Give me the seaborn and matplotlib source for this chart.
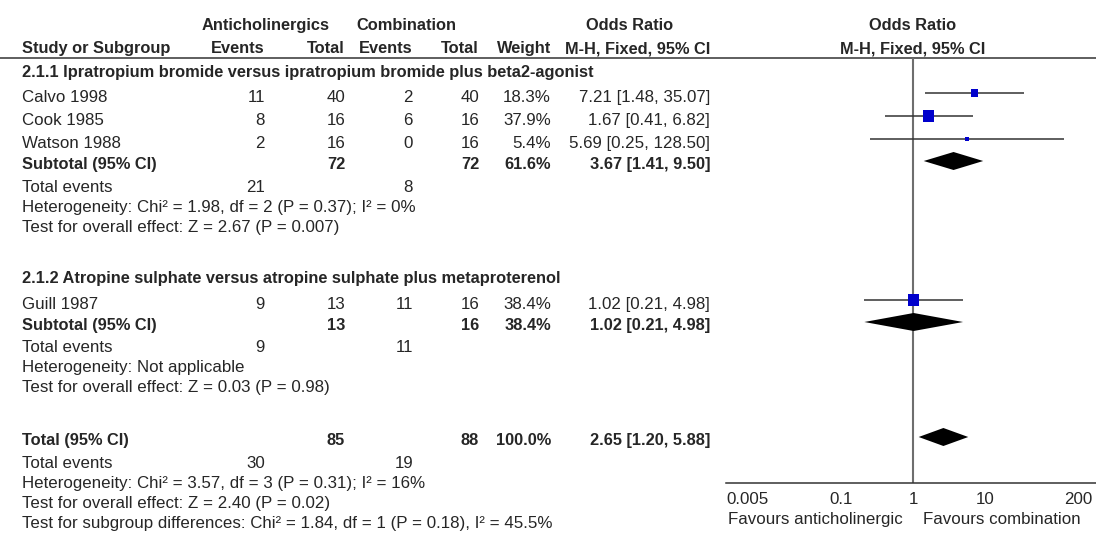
import pandas as pd
import seaborn as sns
import matplotlib.pyplot as plt

# Study level data
studies = ['Calvo 1998', 'Cook 1985', 'Watson 1988', 'Guill 1987']
ac_events = [11, 8, 2, 9]
ac_total = [40, 16, 16, 13]
co_events = [2, 6, 0, 11]
co_total = [40, 16, 16, 16]
weight = [18.3, 37.9, 5.4, 38.4]
odds = [7.21, 1.67, 5.69, 1.02]
ci_low = [1.48, 0.41, 0.25, 0.21]
ci_high = [35.07, 6.82, 128.50, 4.98]

# Subtotals and overall total
pooled_labels = ['Subtotal (95% CI)', 'Subtotal (95% CI)', 'Total (95% CI)']
pooled_ac_total = [72, 13, 85]
pooled_co_total = [72, 16, 88]
pooled_weight = [61.6, 38.4, 100.0]
pooled_or = [3.67, 1.02, 2.65]
pooled_low = [1.41, 0.21, 1.20]
pooled_high = [9.50, 4.98, 5.88]
sum_ac_events = [21, 9, 30]
sum_co_events = [8, 11, 19]

subgroups = ['2.1.1 Ipratropium bromide versus ipratropium bromide plus beta2-agonist',
             '2.1.2 Atropine sulphate versus atropine sulphate plus metaproterenol']
heterogeneity = ['Heterogeneity: Chi\u00b2 = 1.98, df = 2 (P = 0.37); I\u00b2 = 0%',
                 'Heterogeneity: Not applicable',
                 'Heterogeneity: Chi\u00b2 = 3.57, df = 3 (P = 0.31); I\u00b2 = 16%']
overall = ['Test for overall effect: Z = 2.67 (P = 0.007)',
           'Test for overall effect: Z = 0.03 (P = 0.98)',
           'Test for overall effect: Z = 2.40 (P = 0.02)']
subgroup_test = 'Test for subgroup differences: Chi\u00b2 = 1.84, df = 1 (P = 0.18), I\u00b2 = 45.5%'
ticks = [0.005, 0.1, 1, 10, 200]
tick_labels = ['0.005', '0.1', '1', '10', '200']

# Layout (pixel rows / columns)
study_y = [93, 116, 139, 300]
pooled_y = [161, 322, 437]
subgroup_y = [71, 277]
sum_y = [186, 346, 462]
col_ae, col_at, col_ce, col_ct, col_w, col_or = 265, 345, 413, 479, 551, 710
x_left = 22
dark = '#262626'
fs, fsb = 12.2, 11.8

sns.set_style('white')
plt.rcParams['font.family'] = ['Liberation Sans', 'DejaVu Sans']

fig = plt.figure(figsize=(10.96, 5.42), dpi=100)
bg = fig.add_axes([0, 0, 1, 1])
bg.set_xlim(0, 1096)
bg.set_ylim(542, 0)
bg.axis('off')


def txt(x, y, s, ha='left', bold=False):
    # y is the visual centre of capital letters
    bg.text(x, y + 6, s, ha=ha, va='baseline', color=dark,
            fontsize=fsb if bold else fs, fontweight='bold' if bold else 'normal')


# Header
txt(266, 24, 'Anticholinergics', 'center', True)
txt(406, 24, 'Combination', 'center', True)
txt(630, 24, 'Odds Ratio', 'center', True)
txt(913, 24, 'Odds Ratio', 'center', True)
txt(x_left, 47, 'Study or Subgroup', bold=True)
txt(col_ae, 47, 'Events', 'right', True)
txt(col_at, 47, 'Total', 'right', True)
txt(col_ce, 47, 'Events', 'right', True)
txt(col_ct, 47, 'Total', 'right', True)
txt(col_w, 47, 'Weight', 'right', True)
txt(col_or, 47, 'M-H, Fixed, 95% CI', 'right', True)
txt(913, 47, 'M-H, Fixed, 95% CI', 'center', True)
bg.plot([0, 1096], [58, 58], color='#333333', lw=1.1)

for s, y in zip(subgroups, subgroup_y):
    txt(x_left, y, s, bold=True)

for i, s in enumerate(studies):
    y = study_y[i] + 3
    txt(x_left, y, s)
    txt(col_ae, y, str(ac_events[i]), 'right')
    txt(col_at, y, str(ac_total[i]), 'right')
    txt(col_ce, y, str(co_events[i]), 'right')
    txt(col_ct, y, str(co_total[i]), 'right')
    txt(col_w, y, f'{weight[i]:.1f}%', 'right')
    txt(col_or, y, f'{odds[i]:.2f} [{ci_low[i]:.2f}, {ci_high[i]:.2f}]', 'right')

for i, s in enumerate(pooled_labels):
    y = pooled_y[i] + 2
    txt(x_left, y, s, bold=True)
    txt(col_at, y, str(pooled_ac_total[i]), 'right', True)
    txt(col_ct, y, str(pooled_co_total[i]), 'right', True)
    txt(col_w, y, f'{pooled_weight[i]:.1f}%', 'right', True)
    txt(col_or, y, f'{pooled_or[i]:.2f} [{pooled_low[i]:.2f}, {pooled_high[i]:.2f}]', 'right', True)
    ys = sum_y[i]
    txt(x_left, ys, 'Total events')
    txt(col_ae, ys, str(sum_ac_events[i]), 'right')
    txt(col_ce, ys, str(sum_co_events[i]), 'right')
    txt(x_left, ys + 20, heterogeneity[i])
    txt(x_left, ys + 40, overall[i])
txt(x_left, sum_y[2] + 60, subgroup_test)

# Forest plot panel
ax = fig.add_axes([726 / 1096, 1 - 483 / 542, 370 / 1096, 425 / 542])
ax.patch.set_visible(False)
ax.set_xscale('log')
ax.set_xlim(10 ** ((726 - 913) / 71.8), 10 ** ((1096 - 913) / 71.8))
ax.set_ylim(483, 58)
ax.axvline(1, color='#6e6e6e', lw=1.5, zorder=1)

df = pd.DataFrame({'or': odds, 'lo': ci_low, 'hi': ci_high, 'weight': weight, 'y': study_y})
ax.hlines(df['y'], df['lo'], df['hi'], color='#333333', lw=1.1, zorder=2)
sns.scatterplot(data=df, x='or', y='y', size='weight', sizes=(0, 166), size_norm=(0, 100),
                marker='s', color='#0000cc', linewidth=0, legend=False, ax=ax, zorder=3)

for o, lo, hi, y in zip(pooled_or, pooled_low, pooled_high, pooled_y):
    ax.fill([lo, o, hi, o], [y, y - 9, y, y + 9], color='black', lw=0, zorder=3)

for side in ['top', 'left', 'right']:
    ax.spines[side].set_visible(False)
ax.spines['bottom'].set_color('#333333')
ax.spines['bottom'].set_linewidth(1.1)
ax.set_yticks([])
ax.set_xticks(ticks)
ax.set_xticklabels(tick_labels)
ax.minorticks_off()
ax.tick_params(axis='x', direction='inout', length=7.2, width=1.1, color='#333333',
               pad=3, labelsize=fs, labelcolor=dark)
ax.set_xlabel('')
ax.set_ylabel('')

txt(903, 518, 'Favours anticholinergic', 'right')
txt(923, 518, 'Favours combination')

fig.savefig('out.png', dpi=100)
